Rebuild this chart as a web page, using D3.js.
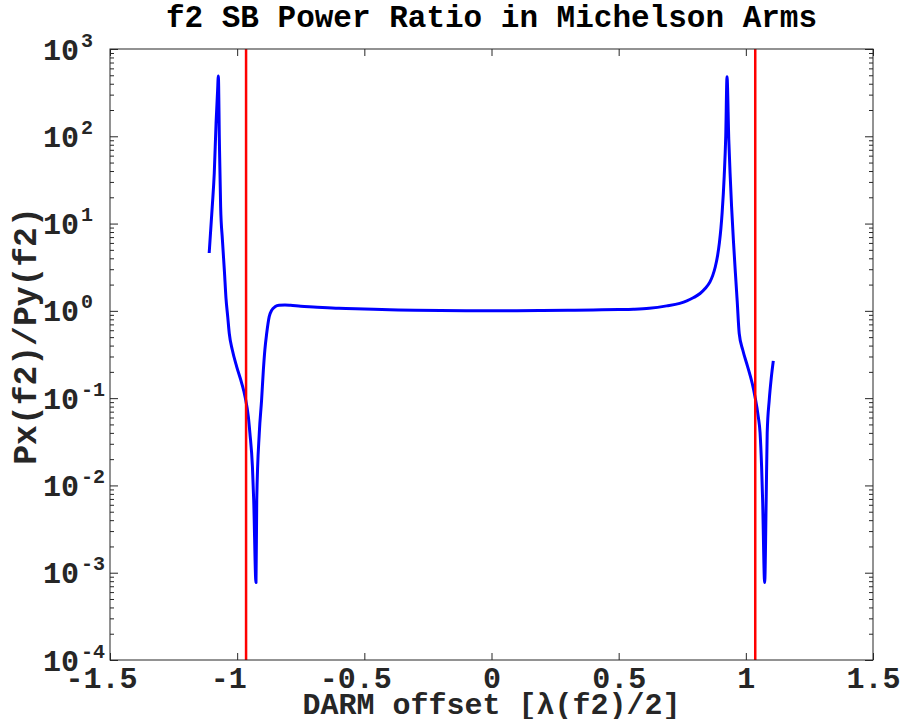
<!DOCTYPE html>
<html>
<head>
<meta charset="utf-8">
<script src="https://cdn.jsdelivr.net/npm/d3@7"></script>
<style>
  body { margin: 0; background: #fff; }
  svg { display: block; }
</style>
</head>
<body>
<div id="chart"></div>
<script>
// DARM offset in units of lambda(f2)/2
const darmOffset = [
    -1.110, -1.098, -1.090, -1.083, -1.077, -1.074, -1.070, -1.065, -1.058, -1.050,
    -1.044, -1.037, -1.031, -1.019, -1.002, -0.982, -0.969, -0.956, -0.950, -0.940,
    -0.935, -0.926, -0.923, -0.913, -0.904, -0.897, -0.891, -0.884, -0.874, -0.864,
    -0.850, -0.835, -0.812, -0.790, -0.750, -0.700, -0.600, -0.500, -0.400, -0.300,
    -0.200, -0.100, 0.000, 0.100, 0.200, 0.300, 0.400, 0.500, 0.558, 0.620,
    0.689, 0.740, 0.768, 0.795, 0.820, 0.840, 0.859, 0.870, 0.880, 0.889,
    0.896, 0.902, 0.907, 0.915, 0.921, 0.926, 0.933, 0.938, 0.944, 0.951,
    0.959, 0.966, 0.974, 0.988, 1.007, 1.025, 1.036, 1.049, 1.056, 1.062,
    1.066, 1.074, 1.080, 1.084, 1.092, 1.100, 1.108
];

// Px(f2)/Py(f2)
const powerRatio = [
    4.6, 15.6, 38, 141, 330, 490, 91, 15.6, 6.5, 2.8,
    1.4, 0.85, 0.55, 0.356, 0.23, 0.148, 0.104, 0.061, 0.040, 0.0164,
    0.0068, 0.00077, 0.0068, 0.040, 0.095, 0.21, 0.36, 0.55, 0.86, 1.02,
    1.12, 1.16, 1.17, 1.16, 1.13, 1.11, 1.07, 1.05, 1.03, 1.015,
    1.007, 1.002, 1.0, 1.002, 1.008, 1.015, 1.025, 1.035, 1.045, 1.07,
    1.14, 1.22, 1.30, 1.42, 1.58, 1.80, 2.15, 2.55, 3.2, 4.3,
    6.0, 8.8, 13.5, 35, 100, 480, 91, 38, 15.6, 6.5,
    2.7, 1.3, 0.55, 0.356, 0.23, 0.148, 0.104, 0.061, 0.040, 0.0164,
    0.0068, 0.00077, 0.0068, 0.040, 0.095, 0.17, 0.267
];

// red vertical markers
const markerOffsets = [-0.965, 1.037];

const xTicks = [-1.5, -1, -0.5, 0, 0.5, 1, 1.5];
const yExponents = [-4, -3, -2, -1, 0, 1, 2, 3];

const width = 903, height = 719;
const margin = { top: 49, right: 30, bottom: 59, left: 110 };
const font = "'Liberation Mono', 'DejaVu Sans Mono', monospace";
const axisColor = "#262626";

const svg = d3.select("#chart").append("svg")
    .attr("width", width)
    .attr("height", height);

const x = d3.scaleLinear()
    .domain([-1.5, 1.5])
    .range([margin.left, width - margin.right]);

const y = d3.scaleLog()
    .domain([1e-4, 1e3])
    .range([height - margin.bottom, margin.top]);

const pts = darmOffset.map((d, i) => [d, powerRatio[i]]);

// curve
svg.append("clipPath").attr("id", "plotclip")
    .append("rect")
    .attr("x", margin.left).attr("y", margin.top)
    .attr("width", width - margin.left - margin.right)
    .attr("height", height - margin.top - margin.bottom);

svg.append("path")
    .datum(pts)
    .attr("clip-path", "url(#plotclip)")
    .attr("fill", "none")
    .attr("stroke", "#0000ff")
    .attr("stroke-width", 3)
    .attr("stroke-linejoin", "round")
    .attr("d", d3.line()
        .x(d => x(d[0]))
        .y(d => y(d[1]))
        .curve(d3.curveMonotoneX));

// red markers
svg.selectAll("line.marker")
    .data(markerOffsets)
    .enter()
    .append("line")
    .attr("class", "marker")
    .attr("x1", d => x(d)).attr("x2", d => x(d))
    .attr("y1", y(1e-4)).attr("y2", y(1e3))
    .attr("stroke", "#ff0000")
    .attr("stroke-width", 2.5);

// x axes (bottom with labels, top ticks only)
const xAxis = svg.append("g")
    .attr("transform", `translate(0,${height - margin.bottom})`)
    .call(d3.axisBottom(x).tickValues(xTicks).tickSizeInner(-7).tickSizeOuter(0)
        .tickFormat(d => String(d)));

xAxis.selectAll("text")
    .attr("font-family", font)
    .attr("font-weight", "bold")
    .attr("font-size", "30px")
    .attr("fill", axisColor)
    .attr("y", 28)
    .attr("dy", 0)
    .attr("dx", d => d < 0 ? -9 : 0);

svg.append("g")
    .attr("transform", `translate(0,${margin.top})`)
    .call(d3.axisTop(x).tickValues(xTicks).tickSizeInner(-7).tickSizeOuter(0).tickFormat(""));

// y axes, major and minor ticks
const yMajor = yExponents.map(e => Math.pow(10, e));
const yMinor = [];
yExponents.slice(0, -1).forEach(e => {
    for (let k = 2; k <= 9; k++) yMinor.push(k * Math.pow(10, e));
});

svg.append("g")
    .attr("transform", `translate(${margin.left},0)`)
    .call(d3.axisLeft(y).tickValues(yMajor).tickSizeInner(-8).tickSizeOuter(0).tickFormat(""));

svg.append("g")
    .attr("transform", `translate(${margin.left},0)`)
    .call(d3.axisLeft(y).tickValues(yMinor).tickSizeInner(-4).tickSizeOuter(0).tickFormat(""));

svg.append("g")
    .attr("transform", `translate(${width - margin.right},0)`)
    .call(d3.axisRight(y).tickValues(yMajor).tickSizeInner(-8).tickSizeOuter(0).tickFormat(""));

svg.append("g")
    .attr("transform", `translate(${width - margin.right},0)`)
    .call(d3.axisRight(y).tickValues(yMinor).tickSizeInner(-4).tickSizeOuter(0).tickFormat(""));

// y tick labels as 10^n
const yLab = svg.append("g")
    .selectAll("text")
    .data(yExponents)
    .enter()
    .append("text")
    .attr("font-family", font)
    .attr("font-weight", "bold")
    .attr("fill", axisColor)
    .attr("y", d => y(Math.pow(10, d)) + 10.5);

yLab.append("tspan")
    .attr("x", 43)
    .attr("font-size", "30px")
    .text("10");

yLab.append("tspan")
    .attr("font-size", "20px")
    .attr("dy", -13)
    .attr("dx", 2)
    .text(d => String(d));

// box
svg.selectAll(".domain").remove();
svg.selectAll(".tick line").attr("stroke", axisColor).attr("stroke-width", 1);
svg.append("rect")
    .attr("x", margin.left).attr("y", margin.top)
    .attr("width", width - margin.left - margin.right)
    .attr("height", height - margin.top - margin.bottom)
    .attr("fill", "none")
    .attr("stroke", axisColor)
    .attr("stroke-width", 1);

// title and labels
svg.append("text")
    .attr("x", x(0))
    .attr("y", 27)
    .attr("text-anchor", "middle")
    .attr("font-family", font)
    .attr("font-weight", "bold")
    .attr("font-size", "31px")
    .attr("fill", "#000")
    .text("f2 SB Power Ratio in Michelson Arms");

svg.append("text")
    .attr("x", x(0))
    .attr("y", 714)
    .attr("text-anchor", "middle")
    .attr("font-family", font)
    .attr("font-weight", "bold")
    .attr("font-size", "30px")
    .attr("fill", axisColor)
    .text("DARM offset [λ(f2)/2]");

svg.append("text")
    .attr("transform", "translate(36,336) rotate(-90)")
    .attr("text-anchor", "middle")
    .attr("font-family", font)
    .attr("font-weight", "bold")
    .attr("font-size", "33px")
    .attr("fill", axisColor)
    .text("Px(f2)/Py(f2)");
</script>
</body>
</html>
